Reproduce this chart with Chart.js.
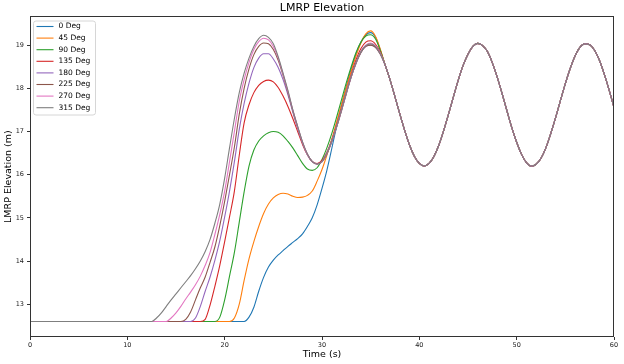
<!DOCTYPE html>
<html><head><meta charset="utf-8">
<script src="https://cdn.jsdelivr.net/npm/chart.js@4/dist/chart.umd.min.js"></script>
<style>html,body{margin:0;padding:0;background:#fff}#wrap{width:624px;height:364px;position:relative}canvas{display:block}</style>
</head><body><div id="wrap"><canvas id="c" width="624" height="364" style="width:624px;height:364px"></canvas></div>
<script>
// ---- data ----
const seriesLabels = ['0 Deg','45 Deg','90 Deg','135 Deg','180 Deg','225 Deg','270 Deg','315 Deg'];
const xTickValues = [0,10,20,30,40,50,60];
const yTickValues = [13,14,15,16,17,18,19];
const xRange = [0,60];
const yRange = [12.24,19.67];

// time grid of the transient part (s)
const tHead = [0,12,12.5,13,13.5,14,14.5,15,15.5,16,16.5,17,17.5,18,18.5,19,19.5,20,20.5,21,21.5,22,22.5,23,23.5,24,24.5,25,25.5,26,26.5,27,27.5,28,28.5,29,29.5,30,30.5,31,31.5,32,32.5,33,33.5,34,34.5,35,35.5,36];
// time grid of the common oscillation (s)
const tTail = [36.5,37,37.5,38,38.5,39,39.5,40,40.5,41,41.5,42,42.5,43,43.5,44,44.5,45,45.5,46,46.5,47,47.5,48,48.5,49,49.5,50,50.5,51,51.5,52,52.5,53,53.5,54,54.5,55,55.5,56,56.5,57,57.5,58,58.5,59,59.5,60];
const tailElevation = [18.53,18.19,17.80,17.40,17.02,16.68,16.42,16.26,16.20,16.26,16.42,16.68,17.02,17.40,17.80,18.19,18.53,18.79,18.97,19.04,18.99,18.85,18.59,18.26,17.88,17.48,17.09,16.75,16.47,16.28,16.20,16.24,16.38,16.62,16.95,17.32,17.72,18.11,18.46,18.75,18.95,19.03,19.01,18.88,18.65,18.33,17.96,17.56];

const deg0   = [12.6, 12.6,12.6,12.6,12.6,12.6,12.6,12.6,12.6,12.6,12.6, 12.6,12.6,12.6,12.6,12.6,12.6,12.6,12.6,12.6,12.6, 12.6,12.7,12.93,13.3,13.62,13.86,14.02,14.14,14.24,14.34, 14.43,14.52,14.63,14.8,15.0,15.3,15.68,16.1,16.6,17.12, 17.6,18.05,18.45,18.8,19.07,19.24,19.29,19.18,18.88];
const deg45  = [12.6, 12.6,12.6,12.6,12.6,12.6,12.6,12.6,12.6,12.6,12.6, 12.6,12.6,12.6,12.6,12.6,12.6,12.6,12.6,12.68,13.0, 13.55,14.05,14.45,14.8,15.1,15.32,15.46,15.54,15.57,15.55, 15.5,15.47,15.48,15.52,15.62,15.85,16.12,16.45,16.82,17.22, 17.62,18.02,18.4,18.75,19.05,19.26,19.33,19.2,18.9];
const deg90  = [12.6, 12.6,12.6,12.6,12.6,12.6,12.6,12.6,12.6,12.6,12.6, 12.6,12.6,12.6,12.6,12.6,12.7,13.1,13.65,14.2,14.9, 15.6,16.2,16.57,16.78,16.9,16.97,17.0,16.98,16.9,16.77, 16.62,16.44,16.26,16.13,16.1,16.16,16.35,16.62,16.95,17.33, 17.73,18.13,18.5,18.83,19.07,19.21,19.24,19.14,18.87];
const deg135 = [12.6, 12.6,12.6,12.6,12.6,12.6,12.6,12.6,12.6,12.6,12.6, 12.6,12.6,12.65,12.98,13.42,13.9,14.45,15.02,15.62,16.45, 17.2,17.62,17.9,18.07,18.16,18.19,18.15,18.02,17.82,17.58, 17.3,17.0,16.7,16.46,16.3,16.26,16.33,16.52,16.8,17.15, 17.53,17.93,18.32,18.66,18.92,19.07,19.1,19.02,18.83];
const deg180 = [12.6, 12.6,12.6,12.6,12.6,12.6,12.6,12.6,12.6,12.6,12.6, 12.68,12.95,13.3,13.63,14.02,14.47,15.02,15.62,16.3,17.05, 17.65,18.12,18.48,18.7,18.8,18.8,18.68,18.48,18.2,17.85, 17.45,17.07,16.73,16.46,16.3,16.25,16.3,16.48,16.76,17.1, 17.48,17.88,18.26,18.58,18.83,18.97,19.0,18.95,18.79];
const deg225 = [12.6, 12.6,12.6,12.6,12.6,12.6,12.6,12.6,12.6,12.65,12.82, 13.1,13.38,13.63,13.97,14.33,14.82,15.38,16.0,16.64,17.4, 18.0,18.45,18.78,18.97,19.05,19.03,18.9,18.65,18.3,17.9, 17.48,17.1,16.74,16.47,16.3,16.25,16.3,16.48,16.76,17.1, 17.48,17.88,18.26,18.58,18.83,18.97,19.0,18.95,18.79];
const deg270 = [12.6, 12.6,12.6,12.6,12.6,12.6,12.68,12.8,12.95,13.12,13.28, 13.45,13.65,13.9,14.2,14.62,15.08,15.62,16.3,17.0,17.7, 18.2,18.6,18.9,19.08,19.16,19.12,18.97,18.7,18.33,17.93, 17.5,17.11,16.75,16.47,16.3,16.24,16.3,16.5,16.78,17.12, 17.5,17.9,18.28,18.6,18.86,19.0,19.05,18.98,18.81];
const deg315 = [12.6, 12.6,12.6,12.68,12.8,12.95,13.1,13.24,13.38,13.52,13.66, 13.82,14.0,14.22,14.5,14.88,15.32,15.92,16.62,17.3,17.9, 18.35,18.7,18.97,19.15,19.23,19.18,19.03,18.73,18.35,17.95, 17.5,17.12,16.76,16.48,16.3,16.24,16.3,16.5,16.78,17.12, 17.5,17.9,18.28,18.6,18.85,18.99,19.03,18.97,18.8];

const seriesValues = [deg0,deg45,deg90,deg135,deg180,deg225,deg270,deg315];

// ---- styles ----
const colors = ['#1f77b4','#ff7f0e','#2ca02c','#d62728','#9467bd','#8c564b','#e377c2','#7f7f7f'];
const FONT = 'DejaVu Sans';

function toPoints(vals){
  const pts = tHead.map((t,i)=>({x:t,y:vals[i]}));
  return pts.concat(tTail.map((t,i)=>({x:t,y:tailElevation[i]})));
}

const datasets = seriesValues.map((vals,i)=>({
  label: seriesLabels[i],
  data: toPoints(vals),
  borderColor: colors[i],
  backgroundColor: colors[i],
  borderWidth: 1.1,
  pointRadius: 0,
  fill: false,
  cubicInterpolationMode: 'monotone',
  order: seriesLabels.length - i
}));

const framePlugin = {
  id: 'frameLegend',
  afterDraw(chart){
    const ctx = chart.ctx, a = chart.chartArea;
    ctx.save();
    // spines
    ctx.strokeStyle = '#333';
    ctx.lineWidth = 1;
    const l = Math.round(a.left)+0.5, r = Math.round(a.right)-0.5, t = Math.round(a.top)+0.5, b = Math.round(a.bottom)-0.5;
    ctx.strokeRect(l, t, r-l, b-t);
    // legend (matplotlib style, upper left)
    const bx = l + 3, by = t + 4.5, bw = 62, bh = 94, rad = 2.5;
    ctx.beginPath();
    ctx.moveTo(bx+rad, by);
    ctx.arcTo(bx+bw, by, bx+bw, by+bh, rad);
    ctx.arcTo(bx+bw, by+bh, bx, by+bh, rad);
    ctx.arcTo(bx, by+bh, bx, by, rad);
    ctx.arcTo(bx, by, bx+bw, by, rad);
    ctx.closePath();
    ctx.fillStyle = 'rgba(255,255,255,0.8)';
    ctx.fill();
    ctx.strokeStyle = '#d6d6d6';
    ctx.stroke();
    ctx.font = '7.5px "' + FONT + '"';
    ctx.textBaseline = 'middle';
    ctx.textAlign = 'left';
    seriesLabels.forEach((lab,i)=>{
      const y = by + 5.5 + i*11.6;
      ctx.strokeStyle = colors[i];
      ctx.lineWidth = 1.1;
      ctx.beginPath();
      ctx.moveTo(bx+3, y); ctx.lineTo(bx+20, y);
      ctx.stroke();
      ctx.fillStyle = '#000';
      ctx.fillText(lab, bx+25, y);
    });
    ctx.restore();
  }
};

new Chart(document.getElementById('c'), {
  type: 'line',
  data: { datasets },
  options: {
    responsive: false,
    animation: false,
    devicePixelRatio: 1,
    layout: { padding: { left: 0, right: 10, top: 0, bottom: 0 } },
    plugins: {
      legend: { display: false },
      tooltip: { enabled: false },
      title: { display: true, fullSize: false, text: 'LMRP Elevation', color: '#000',
        font: { family: FONT, size: 11, weight: 'normal' }, padding: { top: 2, bottom: 1 } }
    },
    scales: {
      x: {
        type: 'linear', min: xRange[0], max: xRange[1],
        afterBuildTicks: s => { s.ticks = xTickValues.map(v => ({ value: v })); },
        afterFit: s => { s.height = 27; },
        ticks: { font: { family: FONT, size: 6.5 }, color: '#222', padding: 1, maxRotation: 0, autoSkip: false },
        grid: { drawOnChartArea: false, tickLength: 3, color: '#333' },
        border: { display: false },
        title: { display: true, text: 'Time (s)', color: '#000', font: { family: FONT, size: 9.5 }, padding: { top: 0, bottom: 4 } }
      },
      y: {
        type: 'linear', min: yRange[0], max: yRange[1],
        afterBuildTicks: s => { s.ticks = yTickValues.map(v => ({ value: v })); },
        afterFit: s => { s.width = 30; },
        ticks: { font: { family: FONT, size: 6.5 }, color: '#222', padding: 3, autoSkip: false },
        grid: { drawOnChartArea: false, tickLength: 3, color: '#333' },
        border: { display: false },
        title: { display: true, text: 'LMRP Elevation (m)', color: '#000', font: { family: FONT, size: 9.5 }, padding: { top: 3, bottom: 0 } }
      }
    }
  },
  plugins: [framePlugin]
});
</script>
</body></html>
